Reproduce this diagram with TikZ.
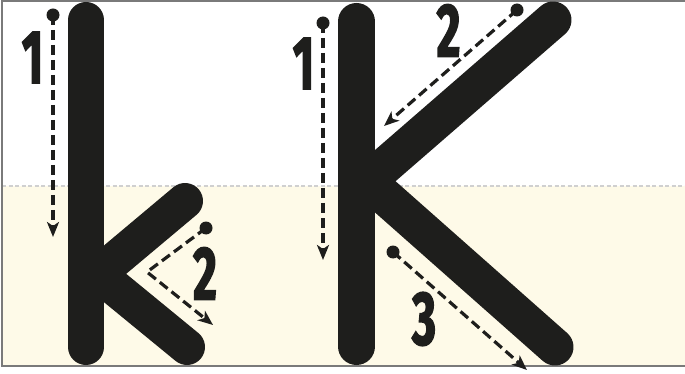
\documentclass[tikz,border=0pt]{standalone}
\usepackage{fontspec}
\setmainfont{Fira Sans}
\newfontfamily\digitfont{Fira Sans}[FakeStretch=0.6,FakeBold=2]
\usetikzlibrary{arrows.meta}
\definecolor{ink}{HTML}{1E1E1C}
\definecolor{cream}{HTML}{FEFAE8}
\definecolor{framegray}{HTML}{7A7A7A}
\definecolor{midgray}{HTML}{D0D0D0}
\begin{document}
\begin{tikzpicture}[x=1pt,y=-1pt,
  letterstroke/.style={draw=ink,line cap=round,line join=round},
  guide/.style={draw=ink,line width=3.2pt,dash pattern=on 10pt off 5pt,
    -{Stealth[length=15pt,width=12pt,inset=4pt]}},
  startdot/.style={fill=ink},
  num/.style={text=ink,inner sep=0pt,font=\digitfont\bfseries\fontsize{76}{76}\selectfont}]
\useasboundingbox (0,0) rectangle (685,374);
\fill[white] (0,0) rectangle (685,374);
\fill[cream] (2,186) rectangle (685,366);
\draw[midgray,line width=2pt,dash pattern=on 4pt off 2.5pt] (2,186) -- (685,186);
\draw[framegray,line width=2pt] (685,1) -- (2,1) -- (2,366) -- (685,366);

% lowercase k
\coordinate (kTop) at (86,20);
\coordinate (kBot) at (86,347);
\coordinate (kJ) at (98,274);
\coordinate (kUp) at (185,201);
\coordinate (kLow) at (187,347);
\draw[letterstroke,line width=36pt] (kTop) -- (kBot);
\draw[letterstroke,line width=36pt] (kUp) -- (kJ) -- (kLow);

% uppercase K
\coordinate (KTop) at (356.5,21.5);
\coordinate (KBot) at (356.5,346.5);
\coordinate (KJa) at (356.5,190.6);
\coordinate (KUp) at (553,20);
\coordinate (KJb) at (367.6,181.2);
\coordinate (KLow) at (555,347);
\draw[letterstroke,line width=37pt] (KTop) -- (KBot);
\draw[letterstroke,line width=37pt] (KJa) -- (KUp);
\draw[letterstroke,line width=37pt] (KJb) -- (KLow);

% guide arrows
\coordinate (k1s) at (53,15);
\coordinate (k1e) at (53,237);
\coordinate (k2s) at (206,228);
\coordinate (k2c) at (147,272);
\coordinate (k2e) at (213,325);
\coordinate (K1s) at (323,23);
\coordinate (K1e) at (323,260);
\coordinate (K2s) at (517,10);
\coordinate (K2e) at (384,126);
\coordinate (K3s) at (393,252);
\coordinate (K3e) at (527,370);

\draw[guide] (k1s) -- (k1e);
\draw[guide] (k2s) -- (k2c) -- (k2e);
\draw[guide] (K1s) -- (K1e);
\draw[guide] (K2s) -- (K2e);
\draw[guide] (K3s) -- (K3e);
\foreach \p in {k1s,k2s,K1s,K2s,K3s}
  \fill[startdot] (\p) circle[radius=6.5pt];

% numbers
\node[num] (n1) at (32.5,57.5) {1};
\node[num] (n2) at (205,273.5) {2};
\node[num] (N1) at (303.5,63.5) {1};
\node[num] (N2) at (448.5,30.5) {2};
\node[num] (N3) at (424,319) {3};
\end{tikzpicture}
\end{document}
